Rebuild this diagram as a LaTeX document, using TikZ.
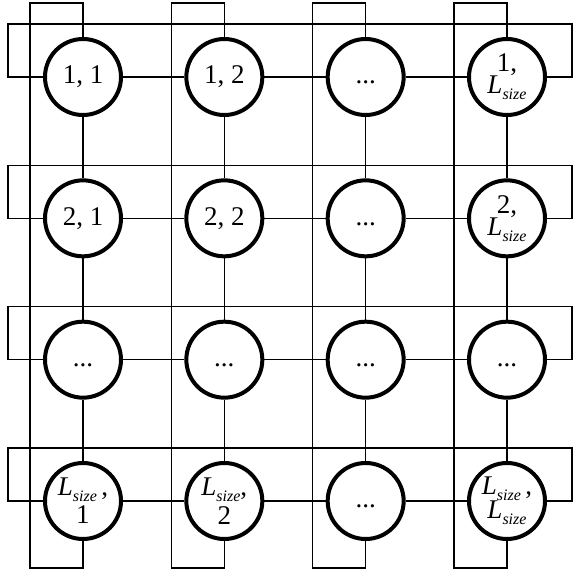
\documentclass[tikz,border=0pt]{standalone}
\usepackage{fontspec}
\setmainfont{Liberation Serif}
\newcommand{\Ls}{{\itshape L}\raisebox{-6pt}{\fontsize{16}{16}\selectfont\itshape size}}
\newcommand{\dotsx}{\vphantom{1,}...}
\begin{document}
\begin{tikzpicture}[x=1pt,y=-1pt,
  cell/.style={circle, draw, line width=4pt, fill=white, minimum size=76pt,
    inner sep=0pt, font=\fontsize{27}{24}\selectfont, align=center},
  wire/.style={line width=1.4pt, line join=miter}]
\useasboundingbox (0,0) rectangle (573,571);
% row 1
\node[cell] (n11) at (83,77) {1, 1};
\node[cell] (n12) at (224.33,77) {1, 2};
\node[cell] (n13) at (365.67,77) {\dotsx};
\node[cell] (n14) at (507,77) {1,\\[-2pt]\Ls};
% row 2
\node[cell] (n21) at (83,218.33) {2, 1};
\node[cell] (n22) at (224.33,218.33) {2, 2};
\node[cell] (n23) at (365.67,218.33) {\dotsx};
\node[cell] (n24) at (507,218.33) {2,\\[-2pt]\Ls};
% row 3
\node[cell] (n31) at (83,359.67) {\dotsx};
\node[cell] (n32) at (224.33,359.67) {\dotsx};
\node[cell] (n33) at (365.67,359.67) {\dotsx};
\node[cell] (n34) at (507,359.67) {\dotsx};
% row 4
\node[cell] (n41) at (83,501) {\Ls\,,\\[4pt]1};
\node[cell] (n42) at (224.33,501) {\Ls,\\[4pt]2};
\node[cell] (n43) at (365.67,501) {\dotsx};
\node[cell] (n44) at (507,501) {\Ls\,,\\[0pt]\Ls};
% neighbour links
\foreach \r in {1,2,3,4} {
  \draw[wire] (n\r1) -- (n\r2);
  \draw[wire] (n\r2) -- (n\r3);
  \draw[wire] (n\r3) -- (n\r4);
}
\foreach \c in {1,2,3,4} {
  \draw[wire] (n1\c) -- (n2\c);
  \draw[wire] (n2\c) -- (n3\c);
  \draw[wire] (n3\c) -- (n4\c);
}
% row wrap-around loops
\foreach \r/\y in {1/77, 2/218.33, 3/359.67, 4/501} {
  \coordinate (rowL\r) at (8,\y);
  \coordinate (rowLT\r) at (8,\y-53);
  \coordinate (rowRT\r) at (572,\y-53);
  \coordinate (rowR\r) at (572,\y);
  \draw[wire] (n\r1.west) -- (rowL\r) -- (rowLT\r) -- (rowRT\r) -- (rowR\r) -- (n\r4.east);
}
% column wrap-around loops
\foreach \c/\x in {1/83, 2/224.33, 3/365.67, 4/507} {
  \coordinate (colT\c) at (\x,3);
  \coordinate (colTL\c) at (\x-53,3);
  \coordinate (colBL\c) at (\x-53,568);
  \coordinate (colB\c) at (\x,568);
  \draw[wire] (n1\c.north) -- (colT\c) -- (colTL\c) -- (colBL\c) -- (colB\c) -- (n4\c.south);
}
\end{tikzpicture}
\end{document}
